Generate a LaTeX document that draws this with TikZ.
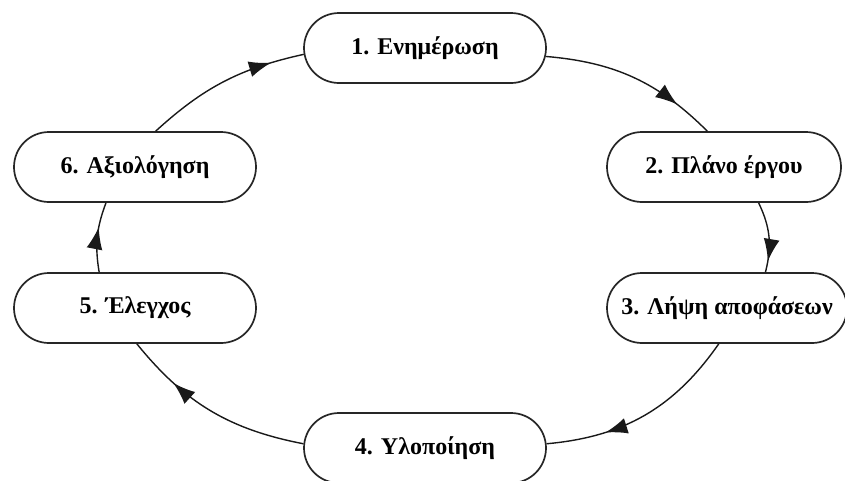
\documentclass[tikz,border=0pt]{standalone}
\usepackage{fontspec}
\setmainfont{Liberation Serif}
\usetikzlibrary{shapes.misc,arrows.meta,decorations.markings}

\tikzset{
  stage/.style={rounded rectangle, draw=black!85, line width=1.7pt,
    minimum height=70pt, inner sep=2pt,
    font=\fontsize{24}{28}\selectfont\bfseries},
  flow/.style={line width=1.4pt, draw=black!90,
    postaction={decorate},
    decoration={markings,
      mark=at position #1 with {\arrow{Latex[length=22pt,width=16pt]}}}},
  flow/.default=0.75
}

\begin{document}
\begin{tikzpicture}[x=1pt,y=-1pt]
  \useasboundingbox (0,0) rectangle (845,480);

  % the six stages of the cycle
  \node[stage, minimum width=246pt] (s1) at (425,48)  {1. Ενημέρωση};
  \node[stage, minimum width=238pt] (s2) at (724,167) {2. Πλάνο έργου};
  \node[stage, minimum width=244pt] (s3) at (727,308) {3. Λήψη αποφάσεων};
  \node[stage, minimum width=246pt] (s4) at (425,448) {4. Υλοποίηση};
  \node[stage, minimum width=246pt] (s5) at (135,308) {5. Έλεγχος};
  \node[stage, minimum width=246pt] (s6) at (135,167) {6. Αξιολόγηση\hspace{48pt}};

  % clockwise connectors
  \draw[flow=0.78] (s1.356) to[bend left=20] (s2.115);
  \draw[flow=0.84] (s2.314) to[bend left=20] (s3.43);
  \draw[flow=0.71] (s3.257) to[bend left=25] (s4.2);
  \draw[flow=0.73] (s4.178) to[bend left=20] (s5.273);
  \draw[flow=0.64] (s5.135) to[bend left=15] (s6.231);
  \draw[flow=0.80] (s6.60)  to[bend left=15] (s1.183);
\end{tikzpicture}
\end{document}
